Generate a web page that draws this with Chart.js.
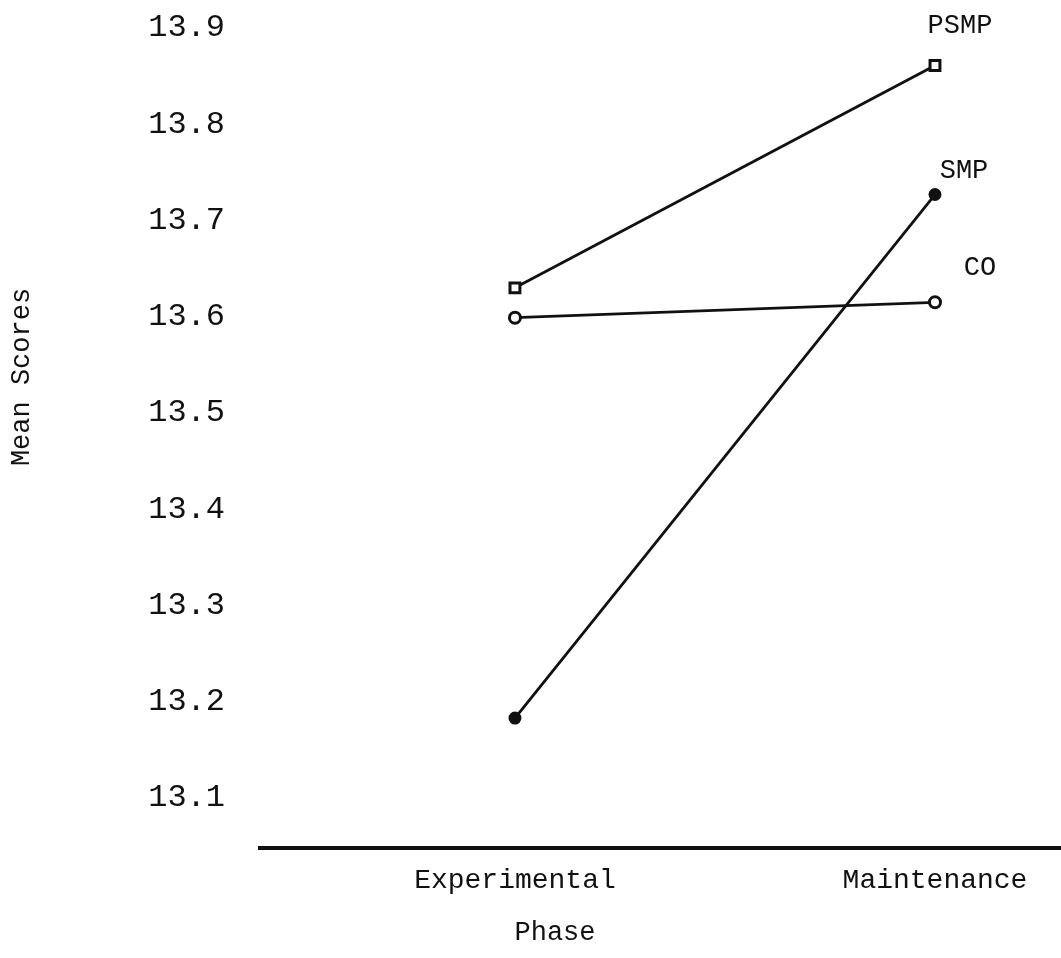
<!DOCTYPE html>
<html>
<head>
<meta charset="utf-8">
<script src="https://cdn.jsdelivr.net/npm/chart.js@4/dist/chart.umd.min.js"></script>
<style>
  html, body { margin: 0; padding: 0; background: #fff; }
  #grafico { display: block; }
</style>
</head>
<body>
<canvas id="grafico" width="1061" height="958"></canvas>
<script>
const fases = ['Experimental', 'Maintenance'];
const psmp = [13.630, 13.861];
const smp = [13.183, 13.727];
const co = [13.599, 13.615];
const ticksY = [13.1, 13.2, 13.3, 13.4, 13.5, 13.6, 13.7, 13.8, 13.9];
const rotulosY = ['13.1', '13.2', '13.3', '13.4', '13.5', '13.6', '13.7', '13.8', '13.9'];

const fonte = '"Liberation Mono", "Courier New", monospace';
const tinta = '#111';

function pontos(valores) {
    return valores.map((v, i) => ({ x: i, y: v }));
}

// nomes das series ao lado do ultimo ponto
const rotulosSeries = {
    id: 'rotulosSeries',
    afterDatasetsDraw(chart) {
        const ctx = chart.ctx;
        const desvios = [[25, -40], [29, -24], [45, -34]];
        ctx.save();
        ctx.fillStyle = tinta;
        ctx.font = '27px ' + fonte;
        ctx.textAlign = 'center';
        ctx.textBaseline = 'middle';
        chart.data.datasets.forEach((ds, i) => {
            const meta = chart.getDatasetMeta(i);
            const ultimo = meta.data[meta.data.length - 1];
            ctx.fillText(ds.label, ultimo.x + desvios[i][0], ultimo.y + desvios[i][1]);
        });
        ctx.restore();
    }
};

// titulos dos eixos
const titulosEixos = {
    id: 'titulosEixos',
    afterDraw(chart) {
        const ctx = chart.ctx;
        const area = chart.chartArea;
        ctx.save();
        ctx.fillStyle = tinta;
        ctx.font = '27px ' + fonte;
        ctx.textAlign = 'center';
        ctx.textBaseline = 'middle';
        ctx.fillText('Phase', area.left + 295, area.bottom + 85);
        ctx.translate(22, area.top + 349);
        ctx.rotate(-Math.PI / 2);
        ctx.fillText('Mean Scores', 0, 0);
        ctx.restore();
    }
};

function serie(nome, valores, estilo, raio, preenchido) {
    return {
        label: nome,
        data: pontos(valores),
        borderColor: tinta,
        borderWidth: 2.8,
        pointStyle: estilo,
        pointRadius: raio,
        pointBorderWidth: 3,
        pointBorderColor: tinta,
        pointBackgroundColor: preenchido ? tinta : '#fff',
        clip: false
    };
}

const grafico = new Chart(document.getElementById('grafico'), {
    type: 'line',
    data: {
        datasets: [
            serie('PSMP', psmp, 'rect', 7, false),
            serie('SMP', smp, 'circle', 5, true),
            serie('CO', co, 'circle', 5.5, false)
        ]
    },
    options: {
        responsive: false,
        animation: false,
        layout: { autoPadding: false, padding: { top: 28, right: 0, bottom: 0, left: 0 } },
        plugins: {
            legend: { display: false },
            tooltip: { enabled: false }
        },
        scales: {
            x: {
                type: 'linear',
                min: -0.607,
                max: 1.3,
                grid: { display: false, drawTicks: false },
                border: { display: true, color: tinta, width: 4 },
                afterBuildTicks: (eixo) => { eixo.ticks = fases.map((f, i) => ({ value: i })); },
                afterFit: (eixo) => {
                    eixo.height = 110;
                    eixo.paddingLeft = 0;
                    eixo.paddingRight = 0;
                },
                ticks: {
                    padding: 16,
                    color: tinta,
                    font: { family: fonte, size: 28 },
                    callback: (v) => fases[v] ?? ''
                }
            },
            y: {
                min: 13.048,
                max: 13.9,
                grid: { display: false, drawTicks: false },
                border: { display: false },
                afterBuildTicks: (eixo) => { eixo.ticks = ticksY.map((v) => ({ value: v })); },
                afterFit: (eixo) => {
                    eixo.width = 260;
                    eixo.paddingTop = 0;
                    eixo.paddingBottom = 0;
                },
                ticks: {
                    padding: 35,
                    color: tinta,
                    font: { family: fonte, size: 32 },
                    callback: (v) => rotulosY[ticksY.findIndex((t) => Math.abs(t - v) < 1e-6)]
                }
            }
        }
    },
    plugins: [rotulosSeries, titulosEixos]
});
</script>
</body>
</html>
